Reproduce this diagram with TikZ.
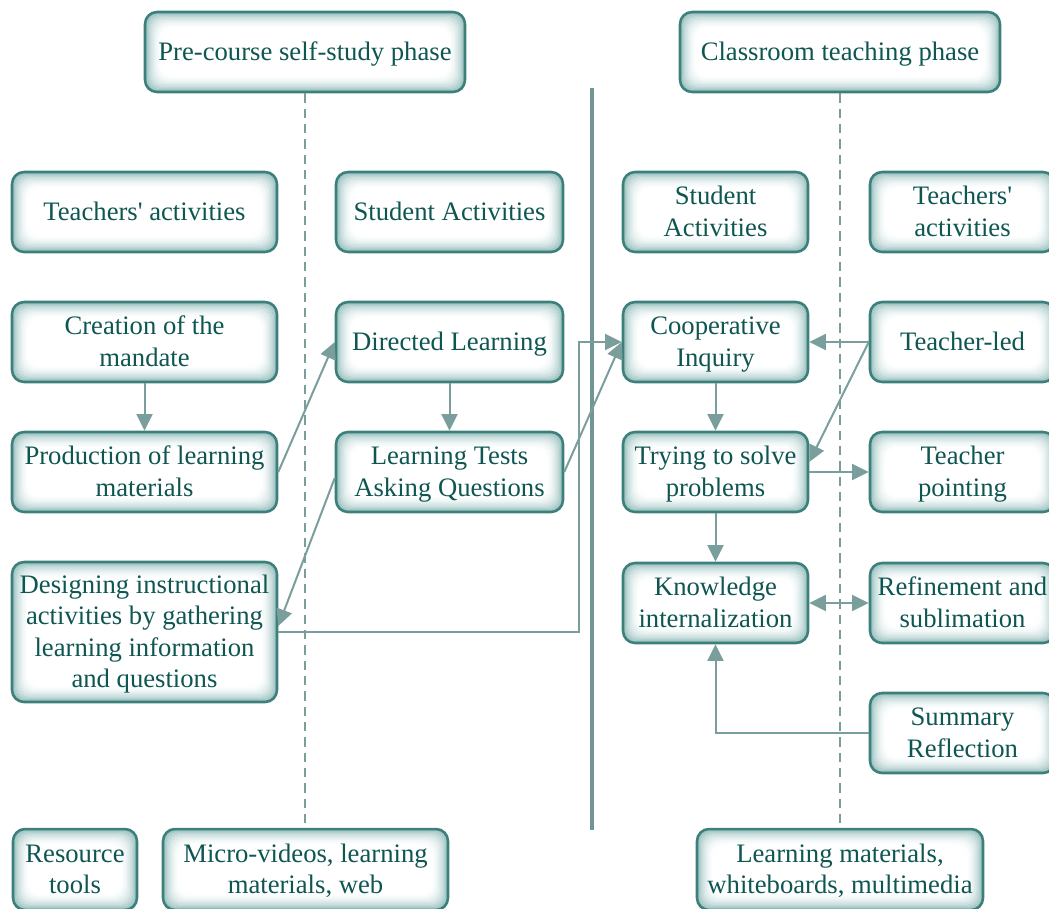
\documentclass[tikz,border=0pt]{standalone}
\usepackage{fontspec}
\setmainfont{Liberation Serif}
\usetikzlibrary{arrows.meta,calc}
\definecolor{bordc}{HTML}{3C7F7B}
\definecolor{glowc}{HTML}{5E9E9A}
\definecolor{txtc}{HTML}{0E5652}
\definecolor{linec}{HTML}{7A9E9C}
\definecolor{sepc}{HTML}{6F9694}
\newcommand\bxstrut{\rule[-4.95pt]{0pt}{22.7pt}}
\tikzset{
 box/.style={draw=bordc, line width=1.9pt, rounded corners=9pt, fill=white, text=txtc,
   align=center, inner sep=0pt, font=\fontsize{20}{23.5}\selectfont,
   minimum height=60pt,
   execute at end node={\bxstrut},
   path picture={\foreach \i in {0,...,14}{\pgfmathtruncatemacro\p{75*(1-\i/15)^2}
     \draw[draw=glowc!\p!white, line width=1.2pt, rounded corners=9pt]
       ($(path picture bounding box.south west)+(\i*0.9pt,\i*0.9pt)$) rectangle
       ($(path picture bounding box.north east)-(\i*0.9pt,\i*0.9pt)$);}}},
 wA/.style={minimum width=198.75pt},
 wB/.style={minimum width=170.25pt},
 wC/.style={minimum width=138.75pt},
 arr/.style={draw=linec, line width=1.5pt, -{Triangle[length=12.5pt,width=12pt]}},
 darr/.style={draw=linec, line width=1.5pt, {Triangle[length=12.5pt,width=12pt]}-{Triangle[length=12.5pt,width=12pt]}},
 lane/.style={draw=linec, line width=1.3pt, dash pattern=on 7pt off 4.5pt},
 sep/.style={draw=sepc, line width=2.4pt}
}
\begin{document}
\begin{tikzpicture}[x=0.75pt,y=-0.75pt]
\useasboundingbox (0,0) rectangle (1049,908);
\clip (0,0) rectangle (1049,908);

\node[box, minimum width=240pt] (pre) at (305,52) {Pre-course self-study phase};
\node[box, minimum width=240pt] (cls) at (840,52) {Classroom teaching phase};

\node[box, wA] (ta) at (144.5,212) {Teachers\textquotesingle\ activities};
\node[box, wB] (sa) at (449.5,212) {Student Activities};
\node[box, wC] (sa2) at (715.5,212) {\bxstrut Student\\Activities};
\node[box, wC] (ta2) at (962.5,212) {\bxstrut Teachers\textquotesingle\\activities};

\node[box, wA] (cre) at (144.5,342) {\bxstrut Creation of the\\mandate};
\node[box, wB] (dir) at (449.5,342) {Directed Learning};
\node[box, wC] (coop) at (715.5,342) {\bxstrut Cooperative\\Inquiry};
\node[box, wC] (tled) at (962.5,342) {Teacher-led};

\node[box, wA] (prod) at (144.5,472) {\bxstrut Production of learning\\materials};
\node[box, wB] (test) at (449.5,472) {\bxstrut Learning Tests\\Asking Questions};
\node[box, wC] (try) at (715.5,472) {\bxstrut Trying to solve\\problems};
\node[box, wC] (point) at (962.5,472) {\bxstrut Teacher\\pointing};

\node[box, wA, minimum height=105pt] (des) at (144.5,632) {\bxstrut Designing instructional\\activities by gathering\\learning information\\and questions};
\node[box, wC] (know) at (715.5,603) {\bxstrut Knowledge\\internalization};
\node[box, wC] (ref) at (962.5,603) {\bxstrut Refinement and\\sublimation};
\node[box, wC] (sum) at (962.5,733) {\bxstrut Summary\\Reflection};

\node[box, minimum width=93pt, minimum height=60.75pt] (res) at (75,869.5) {\bxstrut Resource\\tools};
\node[box, minimum width=213.75pt, minimum height=60.75pt] (mic) at (305.5,869.5) {\bxstrut Micro-videos, learning\\materials, web};
\node[box, minimum width=214.5pt, minimum height=60.75pt] (lm) at (840,869.5) {\bxstrut Learning materials,\\whiteboards, multimedia};

% lanes
\draw[lane] (pre.south) -- (pre.south |- mic.north);
\draw[lane] (cls.south) -- (cls.south |- lm.north);
\coordinate (septop) at (592,88);
\coordinate (sepbot) at (592,830);
\draw[sep] (septop) -- (sepbot);

% connectors
\draw[arr] (cre) -- (prod);
\draw[arr] (prod.east) -- (dir.west);
\draw[arr] (dir) -- (test);
\draw[arr] (test.east) -- (coop.west);
\draw[arr] ($(test.west)+(0,6)$) -- ($(des.east)+(0,-6)$);
\draw[arr] (des.east) -- ++(301,0) |- (coop.west);
\draw[arr] (tled.west) -- (coop.east);
\draw[arr] (tled.west) -- ($(try.east)+(0,-10)$);
\draw[arr] (coop) -- (try);
\draw[arr] (try.east) -- (point.west);
\draw[arr] (try) -- (know);
\draw[darr] (know.east) -- (ref.west);
\draw[arr] (sum.west) -| (know.south);
\end{tikzpicture}
\end{document}
